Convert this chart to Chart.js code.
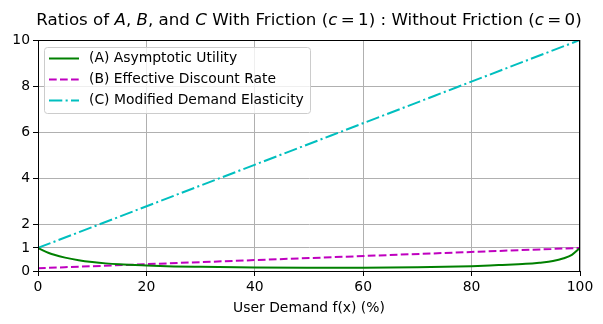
<!DOCTYPE html>
<html>
<head>
<meta charset="utf-8">
<script src="https://cdn.jsdelivr.net/npm/chart.js@4"></script>
<style>
  body { margin: 0; background: #fff; }
  #wrap { width: 603px; height: 324px; }
</style>
</head>
<body>
<div id="wrap"><canvas id="chart" width="603" height="324"></canvas></div>
<script>
// data
const demandA = [0, 1, 2, 3, 5, 7.5, 10, 12.5, 15, 20, 25, 30, 40, 50, 60, 70, 75, 80, 85, 90, 92.5, 95, 97, 98.5, 100];
const utilityA = [1.0, 0.88, 0.78, 0.70, 0.58, 0.47, 0.39, 0.33, 0.29, 0.24, 0.20, 0.18, 0.15, 0.14, 0.14, 0.16, 0.18, 0.21, 0.26, 0.31, 0.36, 0.43, 0.55, 0.70, 1.0];
const demandB = [0, 100];
const discountB = [0.12, 1.0];
const demandC = [0, 100];
const elasticityC = [1.0, 10.0];
const yTicks = [0, 1, 2, 4, 6, 8, 10];
const xTicks = [0, 20, 40, 60, 80, 100];
const labels = ['(A) Asymptotic Utility', '(B) Effective Discount Rate', '(C) Modified Demand Elasticity'];

const FONT = "'DejaVu Sans', sans-serif";
const toPts = (xs, ys) => xs.map((x, i) => ({ x: x, y: ys[i] }));

const dsStyles = [
    { color: '#008000', dash: [] },
    { color: '#bf00bf', dash: [7.7, 3.3] },
    { color: '#00bfbf', dash: [13.3, 3.3, 2.1, 3.3] },
];

const frame = {
    id: 'frame',
    afterDraw(chart) {
        const { ctx, chartArea: a } = chart;
        ctx.save();
        // box on all four sides
        ctx.strokeStyle = '#000';
        ctx.lineWidth = 1;
        ctx.setLineDash([]);
        ctx.strokeRect(a.left + 0.5, a.top + 0.5, a.right - a.left - 1, a.bottom - a.top);

        // title with italic math letters
        const parts = [
            ['Ratios of ', false], ['A', true], [', ', false], ['B', true], [', and ', false], ['C', true],
            [' With Friction (', false], ['c', true], ['\u2009=\u20091) : Without Friction (', false], ['c', true], ['\u2009=\u20090)', false],
        ];
        const fnt = it => (it ? 'italic ' : '') + '16.7px ' + FONT;
        let total = 0;
        parts.forEach(p => { ctx.font = fnt(p[1]); total += ctx.measureText(p[0]).width; });
        let x = (a.left + a.right) / 2 - total / 2;
        ctx.fillStyle = '#000';
        ctx.textBaseline = 'middle';
        parts.forEach(p => {
            ctx.font = fnt(p[1]);
            ctx.fillText(p[0], x, 21);
            x += ctx.measureText(p[0]).width;
        });

        // legend inside the axes
        const lx = a.left + 6, ly = a.top + 7, lw = 266, lh = 66;
        ctx.fillStyle = 'rgba(255,255,255,0.8)';
        ctx.strokeStyle = '#cccccc';
        ctx.beginPath();
        ctx.roundRect(lx + 0.5, ly + 0.5, lw, lh, 3);
        ctx.fill();
        ctx.stroke();
        ctx.font = '13.9px ' + FONT;
        ctx.textBaseline = 'middle';
        labels.forEach((t, i) => {
            const yy = ly + 11.5 + i * 21;
            ctx.strokeStyle = dsStyles[i].color;
            ctx.lineWidth = 2;
            ctx.setLineDash(dsStyles[i].dash);
            ctx.beginPath();
            ctx.moveTo(lx + 5, yy);
            ctx.lineTo(lx + 35, yy);
            ctx.stroke();
            ctx.fillStyle = '#000';
            ctx.fillText(t, lx + 45, yy);
        });
        ctx.restore();
    }
};

new Chart(document.getElementById('chart'), {
    type: 'line',
    data: {
        datasets: [
            { label: labels[0], data: toPts(demandA, utilityA) },
            { label: labels[1], data: toPts(demandB, discountB) },
            { label: labels[2], data: toPts(demandC, elasticityC) },
        ].map((d, i) => Object.assign(d, {
            borderColor: dsStyles[i].color,
            borderDash: dsStyles[i].dash,
            borderWidth: 2,
            pointRadius: 0,
            fill: false,
            tension: 0.4,
            cubicInterpolationMode: 'monotone',
        })),
    },
    options: {
        responsive: false,
        animation: false,
        layout: { padding: { top: 40, right: 23, left: 0, bottom: 0 } },
        plugins: { legend: { display: false }, title: { display: false }, tooltip: { enabled: false } },
        scales: {
            x: {
                type: 'linear',
                min: 0, max: 100,
                afterBuildTicks: s => { s.ticks = xTicks.map(v => ({ value: v })); },
                afterFit: s => { s.height = 53; },
                grid: { color: '#b0b0b0', tickColor: '#000', tickLength: 5, lineWidth: 1 },
                border: { color: '#000' },
                ticks: { color: '#000', font: { family: FONT, size: 13.9 }, padding: 3, maxRotation: 0 },
                title: { display: true, text: 'User Demand f(x) (%)', color: '#000', font: { family: FONT, size: 13.9 }, padding: { top: 2, bottom: 7 } },
            },
            y: {
                min: 0, max: 10,
                afterBuildTicks: s => { s.ticks = yTicks.map(v => ({ value: v })); },
                afterFit: s => { s.width = 38; },
                grid: { color: '#b0b0b0', tickColor: '#000', tickLength: 5, lineWidth: 1 },
                border: { color: '#000' },
                ticks: { color: '#000', font: { family: FONT, size: 13.9 }, padding: 3 },
            },
        },
    },
    plugins: [frame],
});
</script>
</body>
</html>
